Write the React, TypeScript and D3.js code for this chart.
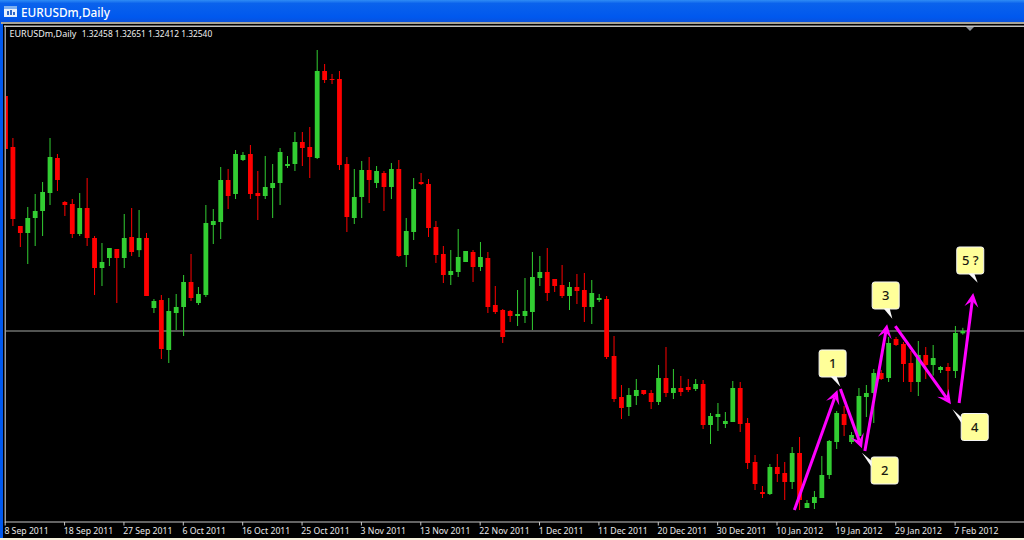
import { line, scaleLinear } from 'd3'

const chartWidth = 1024
const chartHeight = 540

const opens = [
  1.40765, 1.3898, 1.36215, 1.3597, 1.36495, 1.3674, 1.3737, 1.38595, 1.37055, 1.36985,
  1.35935, 1.36845, 1.35795, 1.34745, 1.35095, 1.3541, 1.35095, 1.3583, 1.3537, 1.35795,
  1.33345, 1.33625, 1.31875, 1.3317, 1.3338, 1.34255, 1.3352, 1.338, 1.3625, 1.36355,
  1.37825, 1.37335, 1.38525, 1.38735, 1.3737, 1.37265, 1.37545, 1.3772, 1.38315, 1.38385,
  1.39155, 1.3898, 1.38595, 1.4164, 1.4136, 1.4136, 1.38385, 1.36495, 1.3723, 1.38175,
  1.3772, 1.3807, 1.3758, 1.3821, 1.352, 1.36005, 1.37755, 1.37685, 1.3618, 1.35235,
  1.345, 1.34605, 1.34955, 1.35305, 1.3478, 1.35095, 1.3345, 1.33275, 1.3324, 1.33065,
  1.33065, 1.33205, 1.34395, 1.34605, 1.3436, 1.3415, 1.33765, 1.3408, 1.33975, 1.3338,
  1.33625, 1.3366, 1.31665, 1.3023, 1.2988, 1.30265, 1.30475, 1.3037, 1.30055, 1.30895,
  1.3037, 1.30545, 1.3058, 1.3051, 1.30685, 1.2925, 1.2953, 1.29285, 1.29355, 1.30545,
  1.2932, 1.27955, 1.26905, 1.26835, 1.2778, 1.2757, 1.27255, 1.2827, 1.26345, 1.2652,
  1.26695, 1.275, 1.28655, 1.29635, 1.28655, 1.28865, 1.3023, 1.3037, 1.3107, 1.30895,
  1.3226, 1.32085, 1.3142, 1.30755, 1.317, 1.3135, 1.31175, 1.3128, 1.3114, 1.32458,
]

const highs = [
  1.408, 1.39295, 1.36215, 1.3688, 1.37335, 1.37755, 1.39295, 1.38735, 1.3709, 1.3716,
  1.3737, 1.37895, 1.35865, 1.3562, 1.35445, 1.3541, 1.36635, 1.36845, 1.36775, 1.3597,
  1.3366, 1.338, 1.33695, 1.33835, 1.345, 1.35235, 1.3408, 1.3695, 1.3681, 1.3828,
  1.3821, 1.38875, 1.38805, 1.3905, 1.3814, 1.38665, 1.38385, 1.38945, 1.38665, 1.39505,
  1.39505, 1.3968, 1.42375, 1.41885, 1.41535, 1.4164, 1.3863, 1.3821, 1.3849, 1.3863,
  1.38315, 1.3814, 1.3842, 1.38525, 1.36495, 1.37895, 1.3807, 1.3786, 1.3639, 1.35515,
  1.35375, 1.3611, 1.3534, 1.35375, 1.35655, 1.35305, 1.34115, 1.3331, 1.33275, 1.33975,
  1.34395, 1.35305, 1.35165, 1.35445, 1.3436, 1.3485, 1.34255, 1.34535, 1.3457, 1.34325,
  1.33835, 1.33765, 1.32365, 1.3065, 1.30545, 1.3086, 1.30475, 1.30475, 1.3135, 1.3198,
  1.3121, 1.30965, 1.3086, 1.3086, 1.30825, 1.2967, 1.3002, 1.29705, 1.3079, 1.30755,
  1.29495, 1.282, 1.27115, 1.27885, 1.28235, 1.27955, 1.2848, 1.2883, 1.26625, 1.2694,
  1.28165, 1.28725, 1.2974, 1.29915, 1.29005, 1.30545, 1.3065, 1.3121, 1.31175, 1.3233,
  1.3233, 1.32155, 1.3184, 1.3219, 1.3198, 1.3205, 1.31315, 1.3142, 1.32715, 1.32651,
]

const lows = [
  1.3863, 1.36215, 1.3548, 1.34885, 1.35515, 1.35865, 1.3695, 1.3744, 1.36565, 1.35795,
  1.35865, 1.35515, 1.338, 1.34115, 1.34815, 1.3352, 1.34745, 1.35165, 1.3513, 1.33765,
  1.3317, 1.3156, 1.3142, 1.32575, 1.32365, 1.3359, 1.3345, 1.3373, 1.35585, 1.3576,
  1.3681, 1.3716, 1.3849, 1.3716, 1.36425, 1.3716, 1.36495, 1.3695, 1.38245, 1.3814,
  1.38315, 1.37895, 1.3856, 1.4122, 1.41185, 1.38175, 1.36005, 1.36285, 1.36495, 1.3702,
  1.37545, 1.3674, 1.3716, 1.3513, 1.3478, 1.35725, 1.3765, 1.3583, 1.3492, 1.3422,
  1.3415, 1.3443, 1.34955, 1.34255, 1.3464, 1.3317, 1.33135, 1.3212, 1.32855, 1.32715,
  1.3282, 1.32575, 1.34115, 1.3359, 1.33905, 1.33695, 1.33275, 1.33485, 1.32855, 1.32785,
  1.33555, 1.3156, 1.30055, 1.2946, 1.29565, 1.2995, 1.303, 1.2981, 1.2995, 1.3023,
  1.3016, 1.30265, 1.30405, 1.3044, 1.2911, 1.28585, 1.2904, 1.29145, 1.29355, 1.29005,
  1.2771, 1.26975, 1.26695, 1.268, 1.27255, 1.26625, 1.2701, 1.26275, 1.26345, 1.2631,
  1.26695, 1.2736, 1.2841, 1.28865, 1.28585, 1.28725, 1.2953, 1.2932, 1.30825, 1.30755,
  1.32015, 1.30755, 1.30405, 1.30265, 1.3086, 1.3098, 1.3107, 1.30125, 1.30895, 1.32412,
]

const closes = [
  1.3891, 1.3646, 1.3597, 1.36495, 1.3674, 1.37405, 1.3863, 1.37825, 1.3695, 1.35935,
  1.36845, 1.35795, 1.34745, 1.34955, 1.35445, 1.35095, 1.35795, 1.35305, 1.35795, 1.33765,
  1.3359, 1.3191, 1.3324, 1.3338, 1.34255, 1.33695, 1.33835, 1.3632, 1.3639, 1.37825,
  1.37265, 1.38735, 1.387, 1.37335, 1.37265, 1.3758, 1.3772, 1.38805, 1.38385, 1.39155,
  1.38945, 1.3863, 1.4164, 1.41325, 1.41325, 1.3835, 1.3653, 1.3723, 1.38175, 1.37825,
  1.3814, 1.3758, 1.3821, 1.35165, 1.3604, 1.3751, 1.37685, 1.36145, 1.352, 1.345,
  1.3464, 1.3513, 1.3534, 1.3478, 1.3513, 1.3338, 1.33205, 1.3233, 1.33065, 1.33135,
  1.3324, 1.3443, 1.34605, 1.3387, 1.34115, 1.33765, 1.3408, 1.3394, 1.3338, 1.3387,
  1.33695, 1.3163, 1.3016, 1.29845, 1.303, 1.30475, 1.30335, 1.30055, 1.30895, 1.3037,
  1.30545, 1.30405, 1.30475, 1.30685, 1.2925, 1.29565, 1.29635, 1.2939, 1.30545, 1.29285,
  1.2792, 1.27185, 1.26835, 1.2778, 1.27535, 1.27255, 1.2827, 1.26625, 1.2652, 1.2673,
  1.275, 1.2869, 1.2967, 1.2925, 1.289, 1.30265, 1.3037, 1.3107, 1.3086, 1.3212,
  1.3205, 1.31385, 1.30755, 1.317, 1.3135, 1.31595, 1.3128, 1.3114, 1.3247, 1.3254,
]

const dateTicks = [
  '8 Sep 2011', '18 Sep 2011', '27 Sep 2011', '6 Oct 2011', '16 Oct 2011', '25 Oct 2011',
  '3 Nov 2011', '13 Nov 2011', '22 Nov 2011', '1 Dec 2011', '11 Dec 2011', '20 Dec 2011',
  '30 Dec 2011', '10 Jan 2012', '19 Jan 2012', '29 Jan 2012', '7 Feb 2012',
]

// wave arrows, [bar, price] start then tip
const waveArrows = [
  [[106.3, 1.26275], [112.1, 1.30475]],
  [[112.5, 1.3051], [115.4, 1.2844]],
  [[115.8, 1.2834], [118.8, 1.3278]],
  [[119.9, 1.3271], [127.4, 1.2998]],
  [[128.5, 1.3002], [130.4, 1.3387]],
]

const waveLabels = ['1', '2', '3', '4', '5 ?']
const labelBars = [111.45, 118.46, 118.6, 130.6, 130]
const labelPrices = [1.31403, 1.27658, 1.33783, 1.2918, 1.35008]
const tailBars = [112.5, 115.4, 119.5, 127.6, 131]
const tailPrices = [1.30591, 1.2828, 1.32971, 1.298, 1.3423]

const chartLeft = 6
const chartTop = 27
const axisY = 522
const bodyWidth = 4.8
const boxSize = 27

const xScale = scaleLinear().domain([0, 8]).range([5.5, 64.87])
const yScale = scaleLinear().domain([1.26275, 1.42375]).range([510, 50])

const arrowLine = line()

function App() {
  const last = closes.length - 1
  const uiFont = '"Noto Sans", sans-serif'
  const quote = [opens[last], highs[last], lows[last], closes[last]]
    .map((value) => value.toFixed(5))
    .join(' ')

  return (
    <svg
      width={chartWidth}
      height={chartHeight}
      viewBox={`0 0 ${chartWidth} ${chartHeight}`}
      style={{ position: 'absolute', left: 0, top: 0 }}
    >
      <defs>
        <linearGradient id="titlebar" x1="0" y1="0" x2="0" y2="1">
          <stop offset="0" stopColor="#2f8cf5" />
          <stop offset="0.15" stopColor="#0a62ec" />
          <stop offset="0.75" stopColor="#0058ee" />
          <stop offset="1" stopColor="#0a4fd8" />
        </linearGradient>
        <clipPath id="plot">
          <rect x={chartLeft} y={chartTop} width={chartWidth - chartLeft} height={axisY - chartTop} />
        </clipPath>
      </defs>

      {/* window frame */}
      <rect x={0} y={0} width={chartWidth} height={chartHeight} fill="#0058ee" />
      <rect x={0} y={0} width={chartWidth} height={23} fill="url(#titlebar)" />
      <rect x={1} y={22} width={chartWidth - 1} height={2} fill="#a8a498" />
      <rect x={3} y={24} width={chartWidth - 3} height={514} fill="#000" />
      <rect x={0} y={538} width={chartWidth} height={2} fill="#f5f1dc" />
      <rect x={4} y={25.6} width={chartWidth - 4} height={1.2} fill="#f0f0f0" />
      <rect x={4.6} y={25.6} width={1.2} height={axisY - 25} fill="#c0c0c0" />

      <g>
        <rect x={4} y={6} width={13} height={11} fill="#e8f0fc" />
        <rect x={4} y={6} width={13} height={3} fill="#7fb0ef" />
        <rect x={7} y={11} width={2} height={4} fill="#3068c8" />
        <rect x={10} y={10} width={2} height={5} fill="#3068c8" />
        <rect x={13} y={12} width={2} height={3} fill="#3068c8" />
      </g>
      <text x={21} y={16.5} fill="#fff" fontFamily={uiFont} fontSize={11.8} fontWeight={500}>
        EURUSDm,Daily
      </text>

      <g clipPath="url(#plot)">
        <line
          x1={chartLeft}
          x2={chartWidth}
          y1={yScale(closes[last])}
          y2={yScale(closes[last])}
          stroke="#a4a8a4"
          strokeWidth={1}
        />

        {opens.map((open, i) => {
          const x = xScale(i)
          const close = closes[i]
          const color = close > open ? '#32cd32' : '#ff0000'
          const top = yScale(Math.max(open, close))
          const bottom = yScale(Math.min(open, close))

          return (
            <g key={i}>
              <line x1={x} x2={x} y1={yScale(highs[i])} y2={yScale(lows[i])} stroke={color} strokeWidth={1} />
              <rect
                x={x - bodyWidth / 2}
                y={top}
                width={bodyWidth}
                height={Math.max(bottom - top, 1)}
                fill={color}
              />
            </g>
          )
        })}

        {waveArrows.map((arrow, i) => {
          const points = arrow.map(([bar, price]) => [xScale(bar), yScale(price)])
          const [start, tip] = points
          const angle = Math.atan2(tip[1] - start[1], tip[0] - start[0])
          const along = (d: number, side: number) => [
            tip[0] - d * Math.cos(angle) - side * Math.sin(angle),
            tip[1] - d * Math.sin(angle) + side * Math.cos(angle),
          ]
          const neck = along(8, 0)
          const head = [tip, along(14, 7), neck, along(14, -7)]

          return (
            <g key={i}>
              <path
                d={arrowLine([start, neck] as [number, number][]) ?? ''}
                stroke="#ff00ff"
                strokeWidth={3}
                fill="none"
              />
              <path d={`${arrowLine(head as [number, number][])}Z`} fill="#ff00ff" />
            </g>
          )
        })}
      </g>

      {/* wave labels */}
      {waveLabels.map((label, i) => {
        const x = xScale(labelBars[i])
        const y = yScale(labelPrices[i])
        const tailX = xScale(tailBars[i])
        const tailY = yScale(tailPrices[i])
        const boxX = x - boxSize / 2
        const boxY = y - boxSize / 2
        const tailBelow = tailY > boxY + boxSize
        const baseA = tailBelow ? [x - 2, boxY + boxSize - 0.5] : [boxX + 0.5, boxY + 4]
        const baseB = tailBelow ? [x + 4, boxY + boxSize - 0.5] : [boxX + 0.5, boxY + 10]

        return (
          <g key={label}>
            <rect
              x={boxX}
              y={boxY}
              width={boxSize}
              height={boxSize}
              rx={2.5}
              fill="#ffff99"
              stroke="#f4f4f4"
              strokeWidth={1}
            />
            <path
              d={`${arrowLine([baseA, [tailX, tailY], baseB] as [number, number][])}Z`}
              fill="#f8f8f8"
            />
            <text
              x={x}
              y={y + 4.5}
              textAnchor="middle"
              fill="#1a1a10"
              fontFamily={uiFont}
              fontSize={13}
              fontWeight={500}
              style={{ whiteSpace: 'pre' }}
            >
              {label}
            </text>
          </g>
        )
      })}

      <path d="M966,27 L974,27 L970,31 Z" fill="#8a9098" />

      <text x={9.5} y={37} fill="#f0f0f0" fontFamily={uiFont} fontSize={9}>
        EURUSDm,Daily
      </text>
      <text x={81.7} y={37} fill="#f0f0f0" fontFamily={uiFont} fontSize={8.4}>
        {quote}
      </text>

      {/* time axis */}
      <line x1={5} x2={chartWidth} y1={axisY} y2={axisY} stroke="#c8c8c8" strokeWidth={1} />
      {dateTicks.map((label, i) => {
        const x = xScale(i * 8) - 0.3

        return (
          <g key={label}>
            <line x1={x} x2={x} y1={axisY} y2={axisY + 3.5} stroke="#c8c8c8" strokeWidth={1} />
            <text x={x - 0.8} y={533.5} fill="#e8e8e8" fontFamily={uiFont} fontSize={8.7}>
              {label}
            </text>
          </g>
        )
      })}
    </svg>
  )
}

export default App
